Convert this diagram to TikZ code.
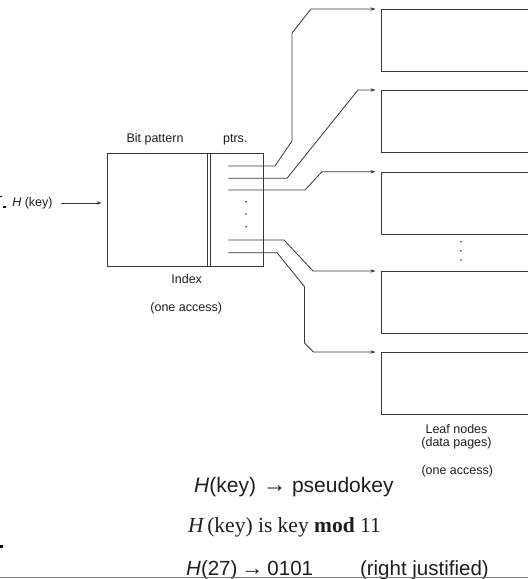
\documentclass[tikz,border=0pt]{standalone}
\usepackage{fontspec}
\setmainfont{Liberation Sans}
\newfontfamily\serifface{Liberation Serif}
\usetikzlibrary{arrows.meta}
\definecolor{linec}{RGB}{55,55,55}
\definecolor{textc}{RGB}{30,30,30}
\definecolor{rulec}{RGB}{125,125,125}
\begin{document}
\begin{tikzpicture}[x=1pt,y=-1pt,
  line/.style={draw=linec, line width=0.8pt},
  ptr/.style={line, -{Stealth[length=5pt,width=3.4pt]}, shorten >=5pt},
  leafbox/.style={draw=linec, line width=0.8pt, minimum width=200pt, minimum height=62pt, anchor=north west, inner sep=0pt},
  lbl/.style={font=\fontsize{12.5}{14}\selectfont, text=textc, inner sep=0pt},
  big/.style={text=textc, inner sep=0pt, anchor=base west},
  dotmark/.style={circle, fill=linec, inner sep=0pt, minimum size=1.7pt},
  speck/.style={fill=black, inner sep=0pt}]
\useasboundingbox (0,0) rectangle (528,579);
\fill[white] (0,0) rectangle (528,579);
\clip (0,0) rectangle (528,579);

% index block
\node[draw=linec, line width=0.8pt, minimum width=156.6pt, minimum height=113pt, anchor=north west, inner sep=0pt] (index) at (106.7,152.7) {};
\draw[line] ([xshift=100.8pt]index.north west) -- ([xshift=100.8pt]index.south west);
\draw[line] ([xshift=103.3pt]index.north west) -- ([xshift=103.3pt]index.south west);
\node[lbl] (bitpat) at (155,139.3) {Bit pattern};
\node[lbl] (ptrs) at (235.3,139.3) {ptrs.};
\node[lbl] (idxlbl) at (186.7,279.3) {Index};
\node[lbl] (acc1) at (186.2,308.3) {(one access)};
\node[lbl] (hkey) at (32.4,203) {{\itshape H} (key)};
\draw[ptr, shorten <=8.5pt] (hkey.east) -- (hkey.east -| index.west);

% dots in pointer column
\node[dotmark] (d1) at (246,201.7) {};
\node[dotmark] (d2) at (246,214) {};
\node[dotmark] (d3) at (246,226.7) {};

% leaf nodes
\node[leafbox] (l1) at (380.5,9) {};
\node[leafbox] (l2) at (380.5,90) {};
\node[leafbox] (l3) at (380.5,171.7) {};
\node[leafbox] (l4) at (380.5,271) {};
\node[leafbox] (l5) at (380.5,352) {};
\node[dotmark] (e1) at (461,241.7) {};
\node[dotmark] (e2) at (461,250.7) {};
\node[dotmark] (e3) at (461,260) {};

% pointers
\coordinate (p1) at (228.3,166);
\coordinate (p2) at (228.3,178.3);
\coordinate (p3) at (228.3,190);
\coordinate (p4) at (228.3,240);
\coordinate (p5) at (228.3,252.7);
\draw[ptr] (p1) -- (275,166) -- (292,141) -- (292,33) -- (311,9) -- (l1.north west);
\draw[ptr] (p2) -- (287,178.3) -- (358,90) -- (l2.north west);
\draw[ptr] (p3) -- (305,190) -- (322,171.7) -- (l3.north west);
\draw[ptr] (p4) -- (284,240) -- (313,271) -- (l4.north west);
\draw[ptr] (p5) -- (277,252.7) -- (304.5,286.7) -- (304.5,343) -- (313.5,352) -- (l5.north west);

\node[lbl] (leafa) at (456.5,429.3) {Leaf nodes};
\node[lbl] (leafb) at (456.5,443.3) {(data pages)};
\node[lbl] (acc2) at (457.3,471.7) {(one access)};

% formulas
\node[big, font=\fontsize{21}{24}\selectfont] (f1) at (194,492) {{\itshape H}(key)\hspace{8pt}\makebox[21pt]{\fontsize{24}{24}\selectfont →}\hspace{7pt}pseudokey};
\node[big, font=\serifface\fontsize{21.5}{24}\selectfont] (f2) at (188,532.5) {{\itshape H\,}(key) is key \textbf{mod} 11};
\node[big, font=\fontsize{20.5}{24}\selectfont] (f3) at (186,575.5) {{\itshape H}(27)\hspace{5pt}\makebox[20pt]{\fontsize{22}{22}\selectfont →}\hspace{5pt}0101\hspace{47pt}(right justified)};

\draw[rulec, line width=1.5pt] (0,577.4) -- (528,577.4);

% specks at the left margin
\node[speck, minimum width=2.6pt, minimum height=2.6pt] (s1) at (4.3,207) {};
\node[speck, minimum width=2.4pt, minimum height=0.9pt] (s2) at (1.3,196.5) {};
\node[speck, minimum width=2.6pt, minimum height=2.6pt] (s3) at (1.5,546.7) {};
\end{tikzpicture}
\end{document}
